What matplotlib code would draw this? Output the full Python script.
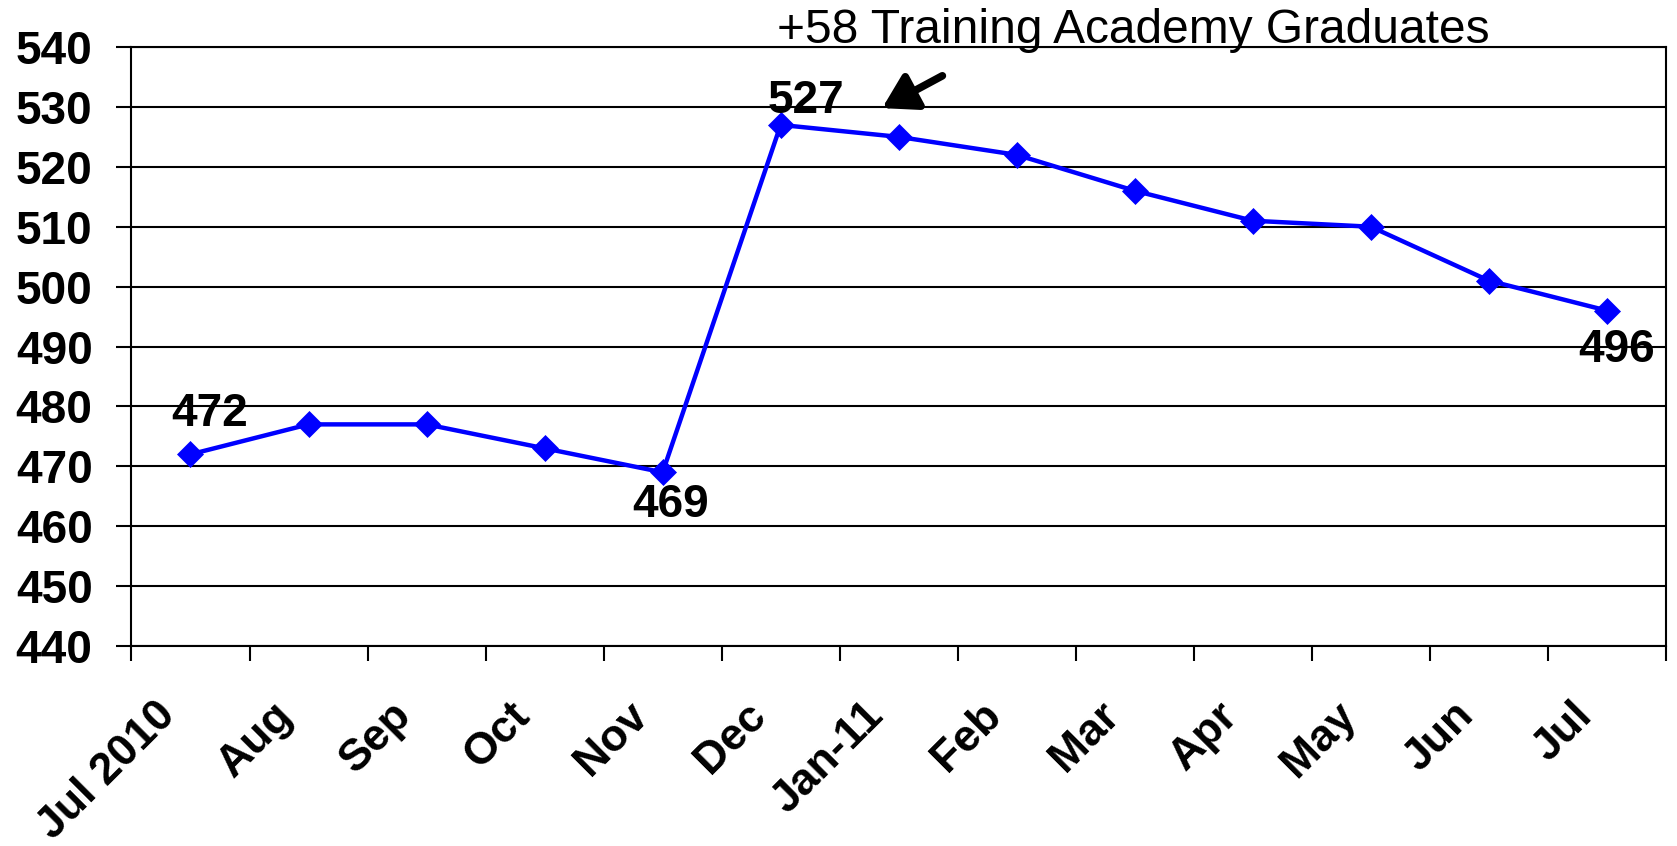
import matplotlib
matplotlib.use("Agg")
import matplotlib.pyplot as plt
import matplotlib.transforms as mtransforms
import numpy as np

months = ["Jul 2010", "Aug", "Sep", "Oct", "Nov", "Dec", "Jan-11", "Feb",
          "Mar", "Apr", "May", "Jun", "Jul"]
values = [472, 477, 477, 473, 469, 527, 525, 522, 516, 511, 510, 501, 496]
yticks = [440, 450, 460, 470, 480, 490, 500, 510, 520, 530, 540]
annotation_text = "+58 Training Academy Graduates"

plt.rcParams['font.family'] = ['Liberation Sans', 'DejaVu Sans']

fig = plt.figure(figsize=(16.77, 8.46), dpi=100)
ax = fig.add_axes([0.0784, 0.2364, 0.9150, 0.7080])

x = np.arange(len(months))
ax.plot(x, values, color='#0000FF', lw=3.2, marker='D', markersize=13.5,
        markeredgecolor='#0000FF', markeredgewidth=0.5, zorder=3,
        clip_on=False)

ax.set_xlim(-0.5, len(months) - 0.5)
ax.set_ylim(440, 540)
ax.set_yticks(yticks)
ax.set_yticklabels([str(v) for v in yticks], fontsize=33, fontweight='bold')
ax.yaxis.grid(True, color='black', lw=1.5)
ax.set_axisbelow(True)

ax.set_xticks(x)
ax.set_xticklabels(months, fontsize=32, fontweight='bold', rotation=45,
                   ha='right', va='top', rotation_mode='anchor')
ax.set_xticks(np.arange(len(months) + 1) - 0.5, minor=True)
ax.tick_params(axis='x', which='major', length=0, pad=35)
ax.tick_params(axis='x', which='minor', length=11, width=1.5, color='black')
ax.tick_params(axis='y', length=11, width=1.5, pad=17)

shift = mtransforms.ScaledTranslation(-0.36, 0, fig.dpi_scale_trans)
for lab in ax.get_xticklabels():
    lab.set_transform(lab.get_transform() + shift)

for s in ax.spines.values():
    s.set_color('black')
    s.set_linewidth(1.5)

# data labels
lab_kw = dict(fontsize=33, fontweight='bold', ha='center', va='baseline',
              textcoords='offset pixels')
ax.annotate(str(values[0]), (x[0], values[0]), xytext=(19, 28), **lab_kw)
ax.annotate(str(values[4]), (x[4], values[4]), xytext=(8, -45), **lab_kw)
ax.annotate(str(values[5]), (x[5], values[5]), xytext=(25, 12), **lab_kw)
ax.annotate(str(values[12]), (x[12], values[12]), xytext=(10, -51), **lab_kw)

# annotation arrow and text
ax.annotate("", xy=(5.86, 529.8), xytext=(6.37, 535.2),
            arrowprops=dict(arrowstyle='-|>,head_length=0.5,head_width=0.3',
                            color='black', lw=5.5, mutation_scale=40,
                            shrinkA=0, shrinkB=0),
            annotation_clip=False)
ax.text(4.97, 540.7, annotation_text, fontsize=34.5, ha='left',
        va='baseline', clip_on=False)

fig.savefig("out.png", dpi=100)
